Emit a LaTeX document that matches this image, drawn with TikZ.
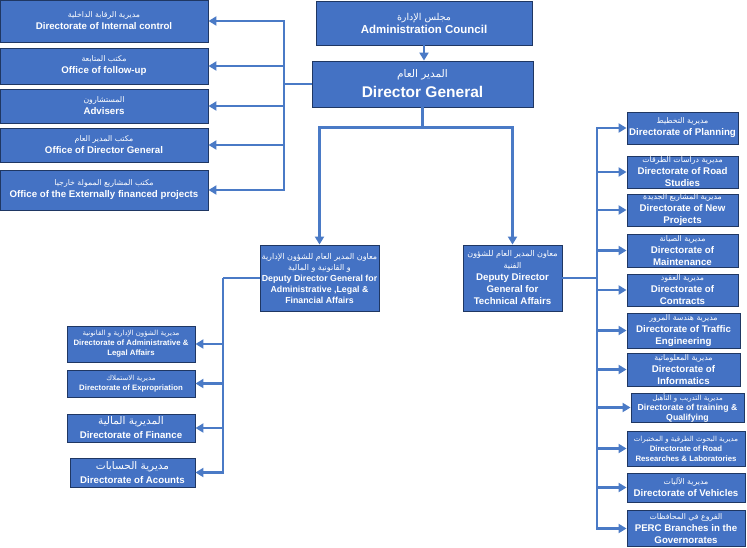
\documentclass[tikz,border=0pt]{standalone}
\usepackage{fontspec}
\setmainfont{Liberation Sans}
\newfontfamily\arabicfont[Script=Arabic]{DejaVu Sans}
\TeXXeTstate=1
\usetikzlibrary{arrows.meta,positioning,calc}
\definecolor{boxblue}{HTML}{4472C4}
\definecolor{edge}{HTML}{1F3763}
\definecolor{wire}{HTML}{4A7AC6}
\newcommand\arl[2][7.8]{{\arabicfont\mdseries\fontsize{#1}{#1}\selectfont\beginR #2\endR}}
\tikzset{unit/.style={draw=edge,fill=boxblue,text=white,align=center,inner sep=0pt,
  line width=0.9pt,font=\bfseries\fontsize{9.7}{12}\selectfont},
  smallunit/.style={unit,font=\bfseries\fontsize{7.8}{10}\selectfont},
  link/.style={draw=wire,line width=2.2pt},
  arrow/.style={link,-{Triangle[length=8pt,width=9pt]}}}

\begin{document}
\begin{tikzpicture}[x=1pt,y=-1pt]
\useasboundingbox (0,0) rectangle (747,547);
% top
\node[unit,minimum width=216pt,minimum height=44pt,font=\bfseries\fontsize{11.5}{13}\selectfont] (council) at (424,23) {\arl[9.5]{مجلس الإدارة}\\Administration Council};
\node[unit,minimum width=221pt,minimum height=46pt,font=\bfseries\fontsize{15.5}{20}\selectfont] (dg) at (422.5,84) {\arl[10.5]{المدير العام}\\Director General};
% offices of the director general
\node[unit,minimum width=208pt,minimum height=42pt] (ic) at (104,21) {\arl{مديرية الرقابة الداخلية}\\Directorate of Internal control};
\node[unit,minimum width=208pt,minimum height=36pt] (fu) at (104,66) {\arl{مكتب المتابعة}\\Office of follow-up};
\node[unit,minimum width=208pt,minimum height=34pt] (adv) at (104,106) {\arl{المستشارون}\\Advisers};
\node[unit,minimum width=208pt,minimum height=34pt] (odg) at (104,145) {\arl{مكتب المدير العام}\\Office of Director General};
\node[unit,minimum width=208pt,minimum height=40pt] (ext) at (104,190) {\arl{مكتب المشاريع الممولة خارجيا}\\Office of the Externally financed projects};
% deputies
\node[unit,minimum width=119pt,minimum height=66pt,font=\bfseries\fontsize{8.8}{11}\selectfont] (admin) at (319.5,278) {\arl[8]{معاون المدير العام للشؤون الإدارية}\\\arl[8]{و القانونية و المالية}\\Deputy Director General for\\Administrative ,Legal \&\\Financial Affairs};
\node[unit,minimum width=99pt,minimum height=66pt,font=\bfseries\fontsize{9.7}{12}\selectfont] (tech) at (512.5,278) {\arl[8]{معاون المدير العام للشؤون}\\\arl[8]{الفنية}\\Deputy Director\\General for\\Technical Affairs};
% administrative directorates
\node[smallunit,minimum width=128pt,minimum height=36pt] (la) at (131,344) {\arl[7]{مديرية الشؤون الإدارية و القانونية}\\Directorate of Administrative \&\\Legal Affairs};
\node[smallunit,minimum width=128pt,minimum height=27pt] (lb) at (131,383.5) {\arl[7]{مديرية الاستملاك}\\Directorate of Expropriation};
\node[unit,minimum width=128pt,minimum height=28pt,font=\bfseries\fontsize{9.7}{14}\selectfont] (lc) at (131,428) {\arl[10.5]{المديرية المالية}\\Directorate of Finance};
\node[unit,minimum width=125pt,minimum height=29pt,font=\bfseries\fontsize{9.7}{14}\selectfont] (ld) at (132.5,472.5) {\arl[10.5]{مديرية الحسابات}\\Directorate of Acounts};
% technical directorates
\node[unit,minimum width=111pt,minimum height=32pt] (r1) at (682.5,128) {\arl{مديرية التخطيط}\\Directorate of Planning};
\node[unit,minimum width=111pt,minimum height=32pt] (r2) at (682.5,172) {\arl{مديرية دراسات الطرقات}\\Directorate of Road\\Studies};
\node[unit,minimum width=111pt,minimum height=30pt] (r3) at (682.5,210) {\arl{مديرية المشاريع الجديدة}\\Directorate of New\\Projects};
\node[unit,minimum width=111pt,minimum height=33pt] (r4) at (682.5,250.5) {\arl{مديرية الصيانة}\\Directorate of\\Maintenance};
\node[unit,minimum width=111pt,minimum height=32pt] (r5) at (682.5,290) {\arl{مديرية العقود}\\Directorate of\\Contracts};
\node[unit,minimum width=113pt,minimum height=35pt] (r6) at (683.5,330.5) {\arl{مديرية هندسة المرور}\\Directorate of Traffic\\Engineering};
\node[unit,minimum width=113pt,minimum height=33pt] (r7) at (683.5,369.5) {\arl{مديرية المعلوماتية}\\Directorate of\\Informatics};
\node[unit,minimum width=113pt,minimum height=29pt,font=\bfseries\fontsize{8.7}{10}\selectfont] (r8) at (687.5,407.5) {\arl[7]{مديرية التدريب و التأهيل}\\Directorate of training \&\\Qualifying};
\node[smallunit,minimum width=118pt,minimum height=35pt] (r9) at (686,448.5) {\arl[7]{مديرية البحوث الطرقية و المختبرات}\\Directorate of Road\\Researches \& Laboratories};
\node[unit,minimum width=118pt,minimum height=29pt] (r10) at (686,487.5) {\arl{مديرية الآليات}\\Directorate of Vehicles};
\node[unit,minimum width=118pt,minimum height=36pt] (r11) at (686,528.5) {\arl{الفروع في المحافظات}\\PERC Branches in the\\Governorates};
% connectors
\draw[arrow] (council.south) -- (council.south |- dg.north);
\coordinate (ltrunk) at (284,84);
\draw[link] (dg.west) -- (ltrunk);
\foreach \n in {ic,fu,adv,odg,ext} \draw[arrow] (ltrunk) |- (\n.east);
\coordinate (split) at ($(dg.south)+(0,20)$);
\draw[link] (dg.south) -- (split);
\draw[arrow] (split) -| (admin.north);
\draw[arrow] (split) -| (tech.north);
\coordinate (btrunk) at (223,278);
\draw[link] (admin.west) -- (btrunk);
\foreach \n in {la,lb,lc,ld} \draw[arrow] (btrunk) |- (\n.east);
\coordinate (rtrunk) at (597,278);
\draw[link] (tech.east) -- (rtrunk);
\foreach \n in {r1,r2,r3,r4,r5,r6,r7,r8,r9,r10,r11} \draw[arrow] (rtrunk) |- (\n.west);
\end{tikzpicture}
\end{document}
